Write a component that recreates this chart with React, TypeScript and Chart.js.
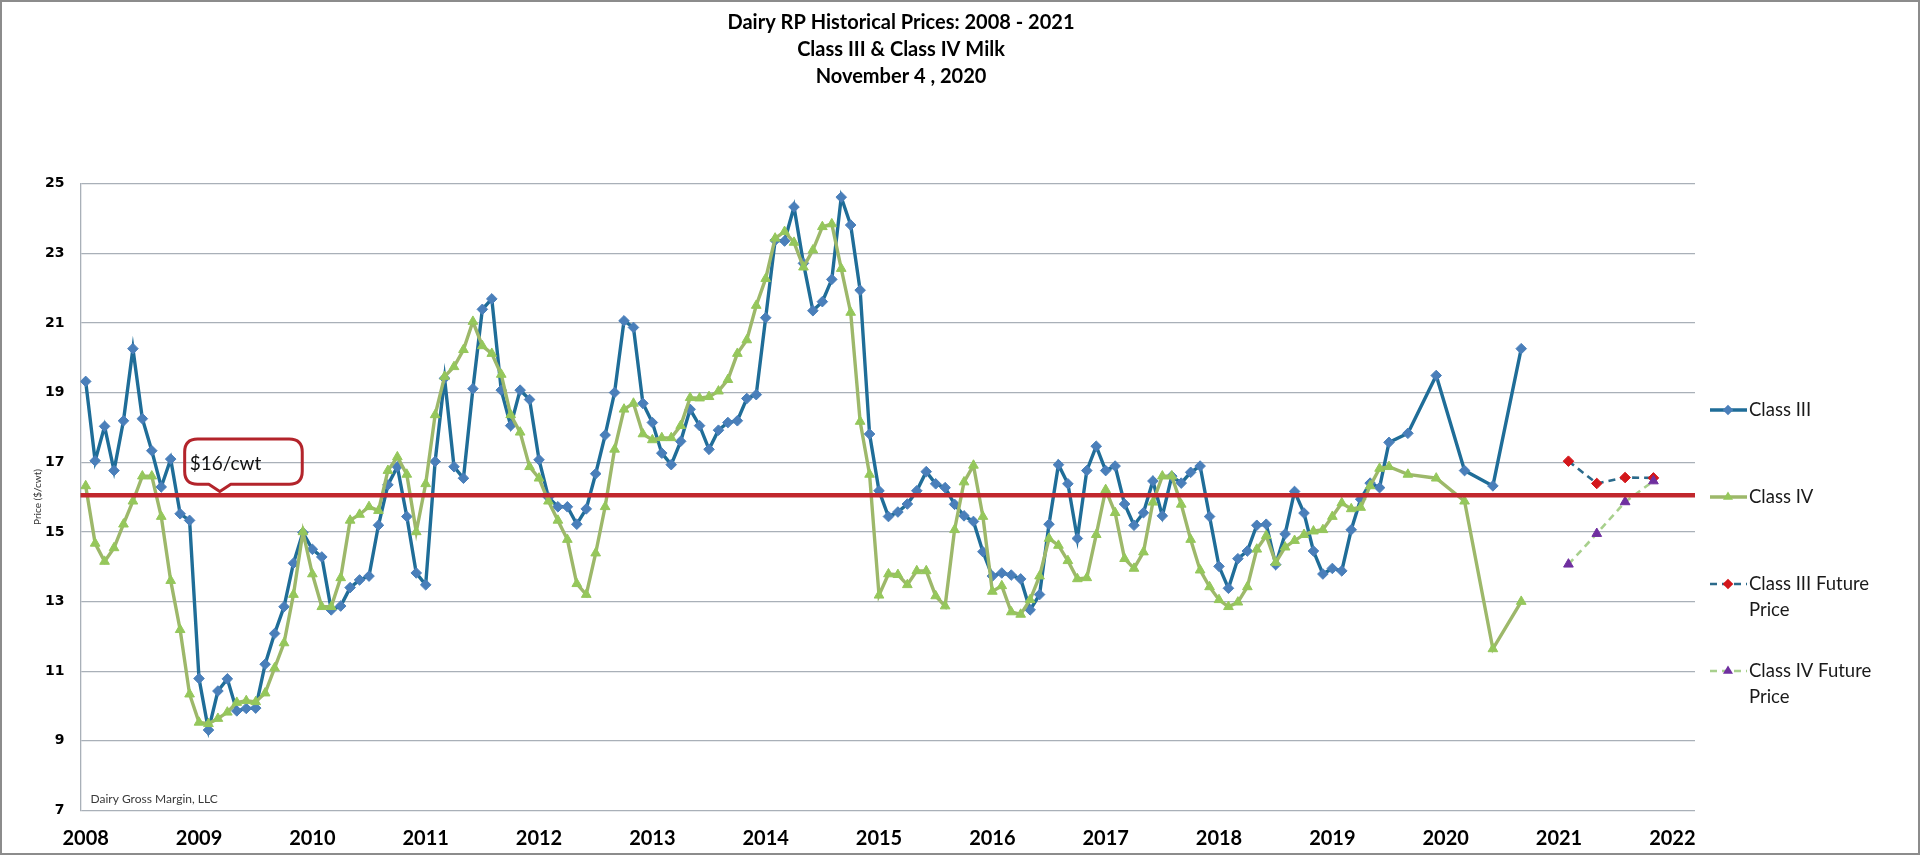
import React, { useEffect, useRef } from "react";
import { Chart, registerables } from "chart.js";

Chart.register(...registerables);

// ---------- data ----------
const titleLines = ["Dairy RP Historical Prices: 2008 - 2021", "Class III & Class IV Milk", "November 4 , 2020"];
const yearLabels = ["2008", "2009", "2010", "2011", "2012", "2013", "2014", "2015", "2016", "2017", "2018", "2019", "2020", "2021", "2022"];
const priceTicks = [7, 9, 11, 13, 15, 17, 19, 21, 23, 25];

// monthly prices, Jan 2008 .. Jul 2019
const firstMonth = "2008-01";
const classIIIMonthly = [
  19.32, 17.04, 18.03, 16.76, 18.19, 20.26, 18.25, 17.33, 16.29, 17.09, 15.52, 15.33,
  10.79, 9.31, 10.43, 10.78, 9.86, 9.93, 9.94, 11.2, 12.08, 12.85, 14.1, 14.98,
  14.5, 14.28, 12.76, 12.87, 13.4, 13.62, 13.73, 15.19, 16.35, 16.87, 15.44, 13.82,
  13.48, 17.02, 19.41, 16.87, 16.54, 19.11, 21.39, 21.69, 19.07, 18.05, 19.07, 18.8,
  17.07, 15.99, 15.72, 15.72, 15.22, 15.66, 16.67, 17.78, 19.0, 21.06, 20.87, 18.69,
  18.14, 17.26, 16.93, 17.6, 18.52, 18.05, 17.37, 17.92, 18.14, 18.19, 18.83, 18.94,
  21.15, 23.37, 23.35, 24.33, 22.71, 21.35, 21.61, 22.25, 24.61, 23.81, 21.94, 17.81,
  16.18, 15.44, 15.57, 15.8, 16.18, 16.73, 16.38, 16.27, 15.79, 15.46, 15.3, 14.43,
  13.73, 13.82, 13.76, 13.65, 12.76, 13.2, 15.22, 16.93, 16.38, 14.81, 16.76, 17.46,
  16.76, 16.89, 15.8, 15.19, 15.55, 16.46, 15.46, 16.6, 16.4, 16.71, 16.89, 15.44,
  14.01, 13.38, 14.23, 14.45, 15.19, 15.22, 14.06, 14.94, 16.16, 15.54, 14.45, 13.79,
  13.95, 13.88, 15.06, 15.94, 16.4, 16.27, 17.57,
];
const classIVMonthly = [
  16.32, 14.67, 14.15, 14.54, 15.22, 15.88, 16.6, 16.6, 15.44, 13.6, 12.19, 10.34,
  9.53, 9.49, 9.64, 9.82, 10.1, 10.15, 10.12, 10.37, 11.09, 11.81, 13.2, 15.0,
  13.79, 12.85, 12.85, 13.68, 15.33, 15.5, 15.72, 15.61, 16.76, 17.15, 16.65, 15.0,
  16.38, 18.36, 19.46, 19.74, 20.23, 21.04, 20.34, 20.12, 19.52, 18.36, 17.86, 16.87,
  16.54, 15.88, 15.33, 14.78, 13.51, 13.2, 14.39, 15.72, 17.37, 18.52, 18.69, 17.81,
  17.64, 17.7, 17.7, 18.05, 18.85, 18.84, 18.88, 19.04, 19.37, 20.12, 20.51, 21.5,
  22.27, 23.43, 23.62, 23.31, 22.6, 23.09, 23.76, 23.84, 22.56, 21.3, 18.17, 16.65,
  13.18, 13.79, 13.77, 13.48, 13.88, 13.88, 13.16, 12.87, 15.06, 16.43, 16.91, 15.44,
  13.29, 13.45, 12.7, 12.63, 13.05, 13.73, 14.81, 14.61, 14.17, 13.65, 13.68, 14.92,
  16.21, 15.55, 14.23, 13.95, 14.42, 15.85, 16.6, 16.6, 15.79, 14.78, 13.9, 13.42,
  13.05, 12.85, 12.98, 13.42, 14.5, 14.89, 14.12, 14.56, 14.75, 14.92, 15.02, 15.06,
  15.44, 15.83, 15.66, 15.7, 16.32, 16.82, 16.87,
];

// later, less frequent observations
const recentMonths = ["2019-09", "2019-12", "2020-03", "2020-06", "2020-09"];
const classIIIRecent = [17.83, 19.49, 16.76, 16.32, 20.26];
const classIVRecent = [16.65, 16.54, 15.88, 11.64, 13.0];

// futures
const futureMonths = ["2021-02", "2021-05", "2021-08", "2021-11"];
const classIIIFuture = [17.03, 16.39, 16.56, 16.55];
const classIVFuture = [14.07, 14.95, 15.86, 16.46];

const thresholdPrice = 16.05;
const thresholdLabel = "$16/cwt";
const watermark = "Dairy Gross Margin, LLC";
const yAxisTitle = "Price ($/cwt)";

// ---------- helpers ----------
const baseYear = Number(firstMonth.slice(0, 4));
const monthIndex = (s: string) => (Number(s.slice(0, 4)) - baseYear) * 12 + Number(s.slice(5, 7)) - 1;
const yearTicks = yearLabels.map((y) => monthIndex(`${y}-01`));

const seriesPoints = (monthly: number[], months: string[], later: number[]) => [
  ...monthly.map((v, i) => ({ x: i, y: v })),
  ...months.map((m, k) => ({ x: monthIndex(m), y: later[k] })),
];
const futurePoints = (vals: number[]) => futureMonths.map((m, k) => ({ x: monthIndex(m), y: vals[k] }));

const GRID = "#a9b0b8";
const FONT = "Lato, 'Open Sans', sans-serif";

function drawMarker(ctx: CanvasRenderingContext2D, style: string, x: number, y: number, r: number, color: string) {
  ctx.save();
  ctx.fillStyle = color;
  ctx.beginPath();
  if (style === "rectRot") {
    ctx.moveTo(x, y - r);
    ctx.lineTo(x + r, y);
    ctx.lineTo(x, y + r);
    ctx.lineTo(x - r, y);
  } else {
    const h = r * 1.5;
    ctx.moveTo(x, y - h * 0.66);
    ctx.lineTo(x + r * 0.9, y + h * 0.34);
    ctx.lineTo(x - r * 0.9, y + h * 0.34);
  }
  ctx.closePath();
  ctx.fill();
  ctx.restore();
}

function wrapText(ctx: CanvasRenderingContext2D, text: string, maxWidth: number) {
  const words = text.split(" ");
  const lines: string[] = [];
  let cur = "";
  for (const w of words) {
    const test = cur ? cur + " " + w : w;
    if (cur && ctx.measureText(test).width > maxWidth) {
      lines.push(cur);
      cur = w;
    } else cur = test;
  }
  if (cur) lines.push(cur);
  return lines;
}

const decorPlugin = {
  id: "decor",
  afterDatasetsDraw(chart: any) {
    const { ctx, chartArea } = chart;
    const xs = chart.scales.x;
    const ys = chart.scales.y;
    // threshold line
    const ty = ys.getPixelForValue(thresholdPrice);
    ctx.save();
    ctx.strokeStyle = "#c1272d";
    ctx.lineWidth = 4.5;
    ctx.beginPath();
    ctx.moveTo(chartArea.left, ty);
    ctx.lineTo(chartArea.right, ty);
    ctx.stroke();

    // callout box
    const l = xs.getPixelForValue(10.48);
    const r = xs.getPixelForValue(22.93);
    const t = ys.getPixelForValue(17.67);
    const b = ys.getPixelForValue(16.37);
    const tipX = xs.getPixelForValue(14.2);
    const tipY = ys.getPixelForValue(16.16);
    const rad = 13;
    ctx.strokeStyle = "#b3242b";
    ctx.lineWidth = 3;
    ctx.lineJoin = "round";
    ctx.beginPath();
    ctx.moveTo(l + rad, t);
    ctx.lineTo(r - rad, t);
    ctx.quadraticCurveTo(r, t, r, t + rad);
    ctx.lineTo(r, b - rad);
    ctx.quadraticCurveTo(r, b, r - rad, b);
    ctx.lineTo(tipX + 11, b);
    ctx.lineTo(tipX, tipY);
    ctx.lineTo(tipX - 11, b);
    ctx.lineTo(l + rad, b);
    ctx.quadraticCurveTo(l, b, l, b - rad);
    ctx.lineTo(l, t + rad);
    ctx.quadraticCurveTo(l, t, l + rad, t);
    ctx.closePath();
    ctx.stroke();
    ctx.fillStyle = "#111";
    ctx.font = `19px ${FONT}`;
    ctx.textAlign = "left";
    ctx.textBaseline = "middle";
    ctx.fillText(thresholdLabel, l + 5, ys.getPixelForValue(16.96));
    ctx.restore();
  },
  afterDraw(chart: any) {
    const { ctx, chartArea, width, height } = chart;
    ctx.save();
    // frame
    ctx.strokeStyle = "#8c8c8c";
    ctx.lineWidth = 2;
    ctx.strokeRect(1, 1, width - 2, height - 2);

    // title
    ctx.fillStyle = "#000";
    ctx.font = `bold 20px ${FONT}`;
    ctx.textAlign = "center";
    ctx.textBaseline = "middle";
    titleLines.forEach((line, i) => ctx.fillText(line, 901, 23 + i * 27));

    // watermark
    ctx.font = `12px ${FONT}`;
    ctx.fillStyle = "#3a3a3a";
    ctx.textAlign = "left";
    ctx.fillText(watermark, chartArea.left + 10, chartArea.bottom - 11);

    // legend
    const lx = chartArea.right + 15;
    let ly = 410;
    chart.data.datasets.forEach((ds: any) => {
      ctx.save();
      ctx.strokeStyle = ds.borderColor;
      ctx.lineWidth = ds.borderWidth;
      ctx.setLineDash(ds.borderDash || []);
      ctx.beginPath();
      ctx.moveTo(lx, ly);
      ctx.lineTo(lx + 37, ly);
      ctx.stroke();
      ctx.restore();
      drawMarker(ctx, ds.pointStyle, lx + 18, ly, ds.pointRadius, ds.pointBackgroundColor);
      ctx.font = `18.5px ${FONT}`;
      ctx.fillStyle = "#1a1a1a";
      ctx.textAlign = "left";
      ctx.textBaseline = "middle";
      const lines = wrapText(ctx, ds.label, 160);
      lines.forEach((ln, i) => ctx.fillText(ln, lx + 39, ly + i * 26));
      ly += 87;
    });
    ctx.restore();
  },
};

export default function App() {
  const canvasRef = useRef<HTMLCanvasElement | null>(null);

  useEffect(() => {
    const canvas = canvasRef.current;
    if (!canvas) return;
    const chart = new Chart(canvas, {
      type: "line",
      data: {
        datasets: [
          {
            label: "Class III",
            data: seriesPoints(classIIIMonthly, recentMonths, classIIIRecent),
            borderColor: "#1f6d98",
            borderWidth: 3.4,
            pointStyle: "rectRot",
            pointRadius: 5.3,
            pointBackgroundColor: "#4a7fba",
            pointBorderColor: "#4a7fba",
            pointBorderWidth: 1,
            order: 3,
          },
          {
            label: "Class IV",
            data: seriesPoints(classIVMonthly, recentMonths, classIVRecent),
            borderColor: "#9db86a",
            borderWidth: 3.4,
            pointStyle: "triangle",
            pointRadius: 5.6,
            pointBackgroundColor: "#95c75b",
            pointBorderColor: "#95c75b",
            pointBorderWidth: 1,
            order: 2,
          },
          {
            label: "Class III Future Price",
            data: futurePoints(classIIIFuture),
            borderColor: "#2b6a8b",
            borderWidth: 2.6,
            borderDash: [7, 5],
            pointStyle: "rectRot",
            pointRadius: 5.3,
            pointBackgroundColor: "#d3171b",
            pointBorderColor: "#d3171b",
            pointBorderWidth: 1,
            order: 1,
          },
          {
            label: "Class IV Future Price",
            data: futurePoints(classIVFuture),
            borderColor: "#a8d08d",
            borderWidth: 2.6,
            borderDash: [7, 5],
            pointStyle: "triangle",
            pointRadius: 5.6,
            pointBackgroundColor: "#6f2f9f",
            pointBorderColor: "#6f2f9f",
            pointBorderWidth: 1,
            order: 0,
          },
        ] as any,
      },
      options: {
        responsive: false,
        animation: false,
        events: [],
        layout: { padding: { top: 183.6, right: 225, bottom: 0, left: 0 } },
        plugins: {
          legend: { display: false },
          title: { display: false },
          tooltip: { enabled: false },
        },
        elements: { line: { tension: 0 } },
        scales: {
          x: {
            type: "linear",
            min: -0.55,
            max: 170.4,
            afterBuildTicks: (s: any) => {
              s.ticks = yearTicks.map((v) => ({ value: v }));
            },
            afterFit: (s: any) => {
              s.height = 44.5;
            },
            grid: { display: false, drawTicks: false },
            border: { display: false },
            ticks: {
              autoSkip: false,
              maxRotation: 0,
              padding: 16,
              color: "#000",
              font: { family: FONT, weight: "bold", size: 20 },
              callback: (v: any) => {
                const i = yearTicks.indexOf(Number(v));
                return i >= 0 ? yearLabels[i] : "";
              },
            },
          },
          y: {
            min: 7,
            max: 25,
            afterBuildTicks: (s: any) => {
              s.ticks = priceTicks.map((v) => ({ value: v }));
            },
            afterFit: (s: any) => {
              s.width = 80.5;
            },
            grid: { color: GRID, lineWidth: 1.3, drawTicks: false },
            border: { display: true, color: GRID, width: 1.3 },
            ticks: {
              padding: 16,
              color: "#000",
              font: { family: "'DejaVu Sans', Verdana, sans-serif", weight: "bold", size: 14 },
            },
            title: {
              display: true,
              text: yAxisTitle,
              color: "#333",
              font: { family: FONT, size: 10 },
              padding: { top: 32, bottom: 0 },
            },
          },
        },
      } as any,
      plugins: [decorPlugin],
    });
    return () => chart.destroy();
  }, []);

  return (
    <div style={{ position: "absolute", left: 0, top: 0, width: 1920, height: 855, background: "#fff" }}>
      <canvas ref={canvasRef} width={1920} height={855} style={{ display: "block", width: 1920, height: 855 }} />
    </div>
  );
}
